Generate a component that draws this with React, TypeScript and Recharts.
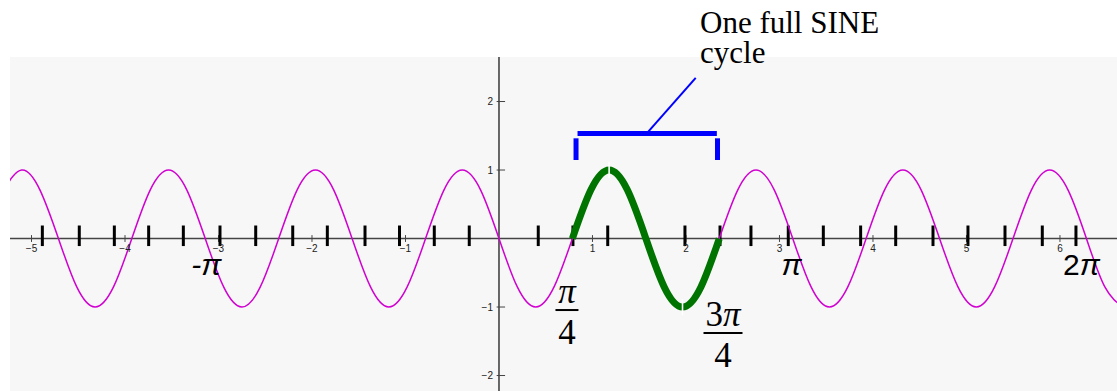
import React from "react";
import { LineChart, Line, XAxis, YAxis, ReferenceLine, ReferenceDot, ReferenceArea } from "recharts";

// Sine wave samples (x in radians, y value)
const waveX = [
  -5.301, -5.105, -4.909, -4.712, -4.516, -4.32, -4.123, -3.927, -3.731, -3.534, -3.338, -3.142,
  -2.945, -2.749, -2.553, -2.356, -2.16, -1.963, -1.767, -1.571, -1.374, -1.178, -0.982, -0.785,
  -0.589, -0.393, -0.196, 0, 0.196, 0.393, 0.589, 0.785, 0.982, 1.178, 1.374, 1.571, 1.767, 1.963,
  2.16, 2.356, 2.553, 2.749, 2.945, 3.142, 3.338, 3.534, 3.731, 3.927, 4.123, 4.32, 4.516, 4.712,
  4.909, 5.105, 5.301, 5.498, 5.694, 5.89, 6.087, 6.283, 6.48, 6.676,
];
const waveY = [
  0.707, 1, 0.707, 0, -0.707, -1, -0.707, 0,
  0.707, 1, 0.707, 0, -0.707, -1, -0.707, 0,
  0.707, 1, 0.707, 0, -0.707, -1, -0.707, 0,
  0.707, 1, 0.707, 0, -0.707, -1, -0.707, 0,
  0.707, 1, 0.707, 0, -0.707, -1, -0.707, 0,
  0.707, 1, 0.707, 0, -0.707, -1, -0.707, 0,
  0.707, 1, 0.707, 0, -0.707, -1, -0.707, 0,
  0.707, 1, 0.707, 0, -0.707, -1,
];

// Highlighted full cycle (pi/4 .. 3pi/4)
const cycleX = [0.785, 0.982, 1.178, 1.374, 1.571, 1.767, 1.963, 2.16, 2.356];
const cycleY = [0, 0.707, 1, 0.707, 0, -0.707, -1, -0.707, 0];
const cycleGaps = [1.178, 1.963];

// Integer axis ticks
const xIntTicks = [-5, -4, -3, -2, -1, 1, 2, 3, 4, 5, 6];
const yIntTicks = [2, 1, -1, -2];

// Large hand-drawn ticks along the x axis (positions)
const bigTicks = [
  -4.884, -4.489, -4.114, -3.747, -3.376, -2.984, -2.602, -2.206, -1.836, -1.433, -1.064, -0.692,
  -0.318, 0.42, 0.791, 1.163, 1.989, 2.364, 2.695, 3.094, 3.469, 3.868, 4.243, 4.642, 5.016, 5.412,
  5.811, 6.171,
];

// Pi labels
const piLabels = [
  { x: -3.13, pre: "-", text: "π", italicPre: true },
  { x: 3.13, pre: "", text: "π", italicPre: false },
  { x: 6.23, pre: "2", text: "π", italicPre: false },
];
const piLabelY = -0.53;

// Fraction labels
const fracLabels = [
  { x: 0.727, y: -1.044, num: "", den: "4", barHalf: 11.5 },
  { x: 2.396, y: -1.38, num: "3", den: "4", barHalf: 19.5 },
];

// Bracket and annotation
const bracketBar = { x1: 0.84, x2: 2.33, y: 1.533 };
const bracketLegs = [0.824, 2.337];
const bracketLegY = [1.146, 1.463];
const pointer = { x1: 1.597, y1: 1.56, x2: 2.104, y2: 2.344 };
const noteLines = ["One full SINE", "cycle"];
const noteAnchor = { x: 2.15, y: 3.0 };

const X_DOMAIN: [number, number] = [-5.23, 6.61];
const Y_DOMAIN: [number, number] = [-2.226, 2.65];

const waveData = waveX.map((x, i) => ({ x, y: waveY[i] }));
const cycleData = cycleX.map((x, i) => ({ x, y: cycleY[i] }));

const SANS = "'Liberation Sans', Arial, sans-serif";
const SERIF = "'Liberation Serif', 'Times New Roman', serif";

export default function App() {
  return (
    <div style={{ position: "absolute", left: 0, top: 0, width: 1117, height: 391, background: "#fff" }}>
      <LineChart width={1117} height={391} margin={{ top: 57, right: 0, bottom: 0, left: 10 }}>
        <XAxis dataKey="x" type="number" domain={X_DOMAIN} allowDataOverflow hide />
        <YAxis dataKey="y" type="number" domain={Y_DOMAIN} allowDataOverflow hide />
        <ReferenceArea
          x1={X_DOMAIN[0]}
          x2={X_DOMAIN[1]}
          y1={Y_DOMAIN[0]}
          y2={Y_DOMAIN[1]}
          fill="#f7f7f7"
          fillOpacity={1}
          stroke="none"
        />
        <ReferenceLine y={0} stroke="#444" strokeWidth={1.6} />
        <ReferenceLine x={0} stroke="#444" strokeWidth={1.6} />
        {xIntTicks.map((t) => (
          <ReferenceLine
            key={"xt" + t}
            segment={[{ x: t, y: -0.05 }, { x: t, y: 0.05 }]}
            stroke="#444"
            strokeWidth={1}
          />
        ))}
        {xIntTicks.map((t) => (
          <ReferenceDot
            key={"xl" + t}
            x={t}
            y={0}
            ifOverflow="visible"
            shape={(p: any) => (
              <text
                x={p.cx}
                y={p.cy + 10}
                textAnchor="middle"
                dominantBaseline="central"
                fontFamily={SANS}
                fontSize={10}
                fill="#222"
              >
                {t < 0 ? "\u2212" + Math.abs(t) : String(t)}
              </text>
            )}
          />
        ))}
        {yIntTicks.map((t) => (
          <ReferenceLine
            key={"yt" + t}
            segment={[{ x: -0.025, y: t }, { x: 0.065, y: t }]}
            stroke="#444"
            strokeWidth={1}
          />
        ))}
        {yIntTicks.map((t) => (
          <ReferenceDot
            key={"yl" + t}
            x={0}
            y={t}
            ifOverflow="visible"
            shape={(p: any) => (
              <text
                x={p.cx - 6}
                y={p.cy}
                textAnchor="end"
                dominantBaseline="central"
                fontFamily={SANS}
                fontSize={10}
                fill="#222"
              >
                {t < 0 ? "\u2212" + Math.abs(t) : String(t)}
              </text>
            )}
          />
        ))}
        {bigTicks.map((t, i) => (
          <ReferenceLine
            key={"bt" + i}
            segment={[{ x: t, y: -0.11 }, { x: t, y: 0.19 }]}
            stroke="#000"
            strokeWidth={3}
          />
        ))}
        <Line
          data={waveData}
          dataKey="y"
          type="natural"
          stroke="#d000d0"
          strokeWidth={1.5}
          dot={false}
          activeDot={false}
          isAnimationActive={false}
        />
        <Line
          data={cycleData}
          dataKey="y"
          type="natural"
          stroke="#007400"
          strokeWidth={7}
          dot={false}
          activeDot={false}
          isAnimationActive={false}
        />
        {cycleGaps.map((g, i) => (
          <ReferenceLine
            key={"gap" + i}
            segment={[{ x: g, y: i === 0 ? 0.88 : -1.12 }, { x: g, y: i === 0 ? 1.12 : -0.88 }]}
            stroke="#ffffff"
            strokeWidth={1.6}
          />
        ))}
        <ReferenceLine
          segment={[{ x: bracketBar.x1, y: bracketBar.y }, { x: bracketBar.x2, y: bracketBar.y }]}
          stroke="#0000ff"
          strokeWidth={5}
        />
        {bracketLegs.map((lx, i) => (
          <ReferenceLine
            key={"leg" + i}
            segment={[{ x: lx, y: bracketLegY[0] }, { x: lx, y: bracketLegY[1] }]}
            stroke="#0000ff"
            strokeWidth={5}
          />
        ))}
        <ReferenceLine
          segment={[{ x: pointer.x1, y: pointer.y1 }, { x: pointer.x2, y: pointer.y2 }]}
          stroke="#0000ff"
          strokeWidth={2}
        />
        {piLabels.map((l, i) => (
          <ReferenceDot
            key={"pi" + i}
            x={l.x}
            y={piLabelY}
            ifOverflow="visible"
            shape={(p: any) => (
              <text x={p.cx} y={p.cy} textAnchor="middle" fontFamily={SANS} fontSize={30} fill="#000">
                {l.pre ? <tspan fontStyle={l.italicPre ? "italic" : "normal"}>{l.pre}</tspan> : null}
                <tspan fontStyle="italic">{l.text}</tspan>
              </text>
            )}
          />
        ))}
        {fracLabels.map((f, i) => (
          <ReferenceDot
            key={"fr" + i}
            x={f.x}
            y={f.y}
            ifOverflow="visible"
            shape={(p: any) => (
              <g>
                <text x={p.cx} y={p.cy - 7} textAnchor="middle" fontFamily={SERIF} fontSize={35} fill="#000">
                  {f.num ? <tspan>{f.num}</tspan> : null}
                  <tspan fontStyle="italic">π</tspan>
                </text>
                <line x1={p.cx - f.barHalf} x2={p.cx + f.barHalf} y1={p.cy} y2={p.cy} stroke="#000" strokeWidth={2} />
                <text x={p.cx} y={p.cy + 34} textAnchor="middle" fontFamily={SERIF} fontSize={35} fill="#000">
                  {f.den}
                </text>
              </g>
            )}
          />
        ))}
        <ReferenceDot
          x={noteAnchor.x}
          y={noteAnchor.y}
          ifOverflow="visible"
          shape={(p: any) => (
            <text x={p.cx} y={p.cy} fontFamily={SERIF} fontSize={31} fill="#000">
              {noteLines.map((ln, i) => (
                <tspan key={i} x={p.cx} dy={i === 0 ? 0 : 30}>
                  {ln}
                </tspan>
              ))}
            </text>
          )}
        />
      </LineChart>
    </div>
  );
}
